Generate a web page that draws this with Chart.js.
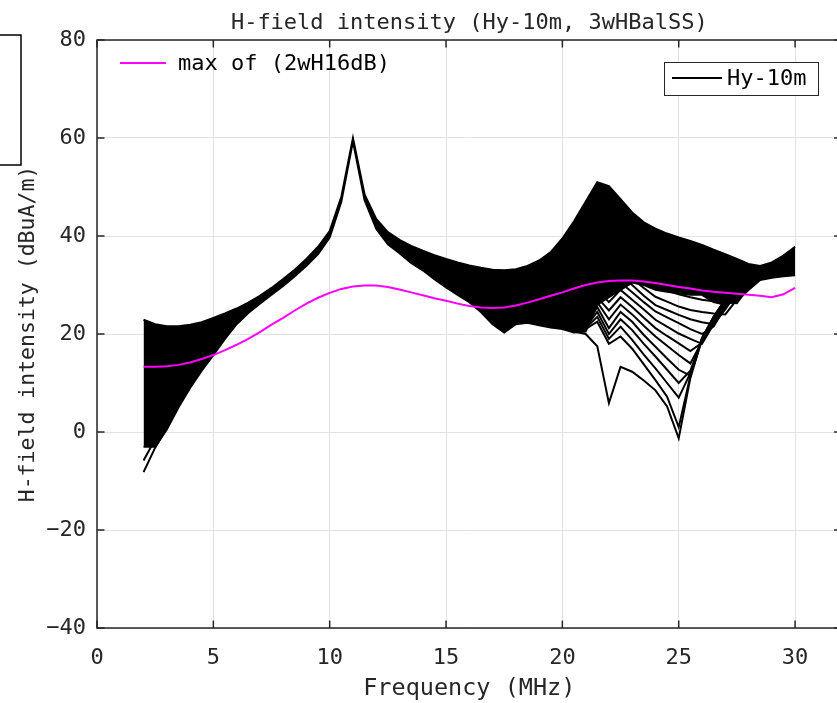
<!DOCTYPE html>
<html>
<head>
<meta charset="utf-8">
<script src="https://cdn.jsdelivr.net/npm/chart.js@4.4.1/dist/chart.umd.min.js"></script>
<style>
  html, body { margin: 0; padding: 0; overflow: hidden; background: #ffffff; }
  #wrap { width: 837px; height: 703px; overflow: hidden; }
</style>
</head>
<body>
<div id="wrap"><canvas id="hfield" width="850" height="703"></canvas></div>
<script>

// frequency grid of the sweep (MHz)
const freq = [2, 2.5, 3, 3.5, 4, 4.5, 5, 5.5, 6, 6.5,
    7, 7.5, 8, 8.5, 9, 9.5, 10, 10.5, 11, 11.5,
    12, 12.5, 13, 13.5, 14, 14.5, 15, 15.5, 16, 16.5,
    17, 17.5, 18, 18.5, 19, 19.5, 20, 20.5, 21, 21.5,
    22, 22.5, 23, 23.5, 24, 24.5, 25, 25.5, 26, 26.5,
    27, 27.5, 28, 28.5, 29, 29.5, 30];

// magenta reference curve
const max_2wH16dB = [13.3, 13.3, 13.4, 13.7, 14.2, 14.9, 15.7, 16.7, 17.8, 19.0,
    20.4, 21.9, 23.3, 24.8, 26.2, 27.4, 28.4, 29.2, 29.7, 29.9,
    29.9, 29.6, 29.1, 28.5, 27.9, 27.3, 26.8, 26.2, 25.7, 25.4,
    25.3, 25.4, 25.8, 26.4, 27.1, 27.8, 28.5, 29.3, 30.0, 30.5,
    30.8, 30.9, 30.9, 30.7, 30.4, 30.0, 29.6, 29.3, 28.9, 28.6,
    28.4, 28.2, 28.0, 27.8, 27.5, 28.1, 29.4];

// Hy-10m family: upper and lower edge of the packed bundle
const hy_upper = [22.9, 22.0, 21.6, 21.6, 21.9, 22.4, 23.3, 24.2, 25.2, 26.4,
    27.8, 29.4, 31.2, 33.1, 35.3, 37.8, 41.0, 48.0, 60.0, 48.5,
    43.5, 40.8, 39.2, 38.0, 37.0, 36.1, 35.3, 34.6, 34.0, 33.5,
    33.1, 33.0, 33.2, 33.9, 35.0, 36.7, 39.5, 43.0, 47.0, 51.0,
    50.2, 47.5, 44.8, 42.8, 41.5, 40.5, 39.7, 39.0, 38.2, 37.2,
    36.3, 35.3, 34.3, 33.9, 34.6, 36.0, 37.8];

const hy_lower = [-3.0, -3.0, 0.5, 5.0, 9.0, 12.5, 15.7, 19.0, 22.0, 24.3,
    26.2, 28.0, 29.8, 31.8, 33.9, 36.3, 39.7, 47.0, 59.3, 47.3,
    41.5, 38.3, 36.5, 34.5, 33.0, 31.2, 29.5, 28.0, 26.5, 24.5,
    22.0, 20.3, 22.0, 22.3, 21.8, 21.3, 21.0, 20.3, 20.5, 26.0,
    27.5, 29.0, 30.5, 30.0, 29.0, 28.6, 28.3, 28.0, 28.0, 26.5,
    26.0, 26.8, 29.0, 31.0, 31.5, 31.8, 32.0];

// low-frequency tails that drop out of the bundle
const tail_freq = [2, 2.5, 3];
const tail_a = [-8.2, -3.2, 0.8];
const tail_b = [-5.8, -1.5, 2.0];

// separated members of the family around the 22-27 MHz notches
const fan_freq = [20.5, 21, 21.5, 22, 22.5, 23, 23.5, 24, 24.5, 25, 25.5, 26, 26.5, 27, 27.5, 28];
const fan_1  = [21.0, 23.0, 36.0, 34.0, 35.0, 33.0, 31.0, 29.5, 28.8, 28.1, 27.5, 27.0, 26.7, 26.5, 26.3, 29.5];
const fan_2  = [21.0, 22.8, 34.0, 32.0, 33.5, 31.3, 29.4, 27.6, 26.6, 25.6, 24.9, 24.5, 24.2, 24.0, 27.0, 30.0];
const fan_3  = [21.0, 22.6, 32.0, 30.0, 32.0, 30.0, 27.8, 25.9, 24.9, 23.9, 23.0, 22.4, 22.0, 25.0, 28.5, 30.5];
const fan_4  = [21.0, 22.4, 30.5, 28.2, 30.5, 28.5, 26.5, 24.6, 23.4, 22.2, 21.0, 20.0, 21.5, 25.5, 29.0, 31.0];
const fan_5  = [20.8, 22.2, 29.0, 26.5, 29.0, 27.0, 25.0, 22.9, 21.5, 20.1, 19.0, 18.0, 22.0, 26.0, 29.0, 31.0];
const fan_6  = [20.8, 22.0, 27.5, 24.8, 27.5, 25.5, 23.3, 21.2, 19.6, 18.1, 16.5, 18.2, 22.5, 26.3, 29.2, 31.0];
const fan_7  = [20.6, 21.8, 26.5, 23.0, 26.0, 24.0, 21.7, 19.5, 17.6, 15.7, 14.0, 18.5, 23.0, 26.6, 29.3, 31.0];
const fan_8  = [20.6, 21.6, 25.5, 21.2, 24.5, 22.5, 19.8, 17.4, 15.0, 12.7, 11.5, 18.8, 23.2, 26.8, 29.4, 31.0];
const fan_9  = [20.5, 21.4, 24.5, 20.0, 23.0, 20.8, 18.0, 15.4, 12.7, 10.0, 12.5, 19.0, 23.3, 26.9, 29.5, 31.0];
const fan_10 = [20.5, 21.2, 23.5, 19.0, 21.5, 18.8, 15.8, 13.0, 10.0, 7.0, 12.0, 19.2, 23.4, 27.0, 29.5, 31.0];
const fan_11 = [20.5, 21.0, 22.5, 18.0, 19.5, 17.0, 13.8, 10.6, 7.2, 1.0, 11.5, 19.1, 23.5, 27.0, 29.5, 31.0];
const fan_deep = [20.5, 20.0, 17.5, 5.9, 13.3, 12.3, 10.5, 8.5, 5.2, -1.3, 11.0, 19.0, 23.5, 27.0, 29.5, 31.0];

const x_ticks_step = 5;
const y_ticks_step = 20;

const font_family = "'DejaVu Sans Mono', 'Liberation Mono', monospace";
const text_colour = '#262626';
const black_label = 'Hy-10m';
const magenta_label = 'max of (2wH16dB)';

function toPoints(xs, ys) {
    return xs.map((x, i) => ({x: x, y: ys[i]}));
}

function blackLine(xs, ys, extra) {
    return Object.assign({
        label: black_label,
        data: toPoints(xs, ys),
        borderColor: '#000000',
        backgroundColor: '#000000',
        borderWidth: 2,
        pointRadius: 0,
        tension: 0,
        fill: false
    }, extra || {});
}

const fan_curves = [fan_1, fan_2, fan_3, fan_4, fan_5, fan_6, fan_7, fan_8, fan_9, fan_10, fan_11, fan_deep];

// index 0 is drawn last, so the magenta line sits on top
let datasets = [];
datasets.push({
    label: magenta_label,
    data: toPoints(freq, max_2wH16dB),
    borderColor: '#ff00ff',
    borderWidth: 2,
    pointRadius: 0,
    tension: 0,
    fill: false
});
fan_curves.forEach(c => datasets.push(blackLine(fan_freq, c)));
datasets.push(blackLine(tail_freq, tail_a));
datasets.push(blackLine(tail_freq, tail_b));
datasets.push(blackLine(freq, hy_upper, {fill: '+1'}));   // bundle filled down to hy_lower
datasets.push(blackLine(freq, hy_lower));

// box, inward ticks, the two legends and the clipped box at the left edge
const frame_plugin = {
    id: 'matlab_frame',
    afterDraw(chart) {
        const ctx = chart.ctx;
        const area = chart.chartArea;
        const xs = chart.scales.x;
        const ys = chart.scales.y;
        const tick_len = 7.5;

        ctx.save();
        ctx.strokeStyle = text_colour;
        ctx.lineWidth = 1.5;
        ctx.strokeRect(area.left, area.top, area.right - area.left, area.bottom - area.top);

        ctx.beginPath();
        xs.ticks.forEach(t => {
            const px = xs.getPixelForValue(t.value);
            ctx.moveTo(px, area.bottom); ctx.lineTo(px, area.bottom - tick_len);
            ctx.moveTo(px, area.top); ctx.lineTo(px, area.top + tick_len);
        });
        ys.ticks.forEach(t => {
            const py = ys.getPixelForValue(t.value);
            ctx.moveTo(area.left, py); ctx.lineTo(area.left + tick_len, py);
            ctx.moveTo(area.right, py); ctx.lineTo(area.right - tick_len, py);
        });
        ctx.stroke();

        // other legend box, mostly outside the figure
        ctx.strokeStyle = '#000000';
        ctx.strokeRect(-10, 35, 31, 130);

        ctx.font = '22px ' + font_family;
        ctx.textBaseline = 'middle';
        ctx.textAlign = 'left';

        // legend without box (top left)
        const mag = chart.data.datasets[0];
        ctx.strokeStyle = mag.borderColor;
        ctx.lineWidth = 2;
        ctx.beginPath();
        ctx.moveTo(120, 63); ctx.lineTo(166, 63);
        ctx.stroke();
        ctx.fillStyle = '#000000';
        ctx.fillText(mag.label, 178, 64);

        // legend with box (top right)
        const blk = chart.data.datasets[chart.data.datasets.length - 1];
        ctx.fillStyle = '#ffffff';
        ctx.fillRect(664.5, 62.5, 154, 33);
        ctx.strokeStyle = text_colour;
        ctx.lineWidth = 1;
        ctx.strokeRect(664.5, 62.5, 154, 33);
        ctx.strokeStyle = blk.borderColor;
        ctx.lineWidth = 2;
        ctx.beginPath();
        ctx.moveTo(672, 78); ctx.lineTo(722, 78);
        ctx.stroke();
        ctx.fillStyle = '#000000';
        ctx.fillText(blk.label, 727, 79);
        ctx.restore();
    }
};

const config = {
    type: 'line',
    data: { datasets: datasets },
    options: {
        responsive: false,
        animation: false,
        devicePixelRatio: 1,
        events: [],
        layout: { padding: { left: 0, top: 0, bottom: 0, right: 8.4 } },   // x = 32 sits just past the window edge
        plugins: {
            legend: { display: false },
            tooltip: { enabled: false },
            title: {
                display: true,
                fullSize: false,
                text: 'H-field intensity (Hy-10m, 3wHBalSS)',
                color: text_colour,
                font: { family: font_family, size: 22, weight: 'normal' },
                padding: { top: 10, bottom: 3.6 }
            }
        },
        scales: {
            x: {
                type: 'linear',
                min: 0,
                max: 32,
                ticks: {
                    stepSize: x_ticks_step,
                    includeBounds: false,
                    padding: 17,
                    maxRotation: 0,
                    color: text_colour,
                    font: { family: font_family, size: 22 }
                },
                grid: { color: '#e2e2e2', lineWidth: 1, drawTicks: false },
                border: { display: false },
                title: {
                    display: true,
                    text: 'Frequency (MHz)',
                    color: text_colour,
                    font: { family: font_family, size: 23.5 },
                    padding: { top: 0, bottom: 0 }
                },
                afterFit: s => { s.height = 75; }
            },
            y: {
                type: 'linear',
                min: -40,
                max: 80,
                ticks: {
                    stepSize: y_ticks_step,
                    padding: 11,
                    color: text_colour,
                    font: { family: font_family, size: 22 },
                    callback: v => String(v).replace('-', '\u2212')
                },
                grid: { color: '#e2e2e2', lineWidth: 1, drawTicks: false },
                border: { display: false },
                title: {
                    display: true,
                    text: 'H-field intensity (dBuA/m)',
                    color: text_colour,
                    font: { family: font_family, size: 21.5 },
                    padding: { top: 16, bottom: 0 }
                },
                afterFit: s => { s.width = 97; }
            }
        }
    },
    plugins: [frame_plugin]
};

const ctx_hfield = document.getElementById('hfield').getContext('2d');
const hfield_chart = new Chart(ctx_hfield, config);

</script>
</body>
</html>
